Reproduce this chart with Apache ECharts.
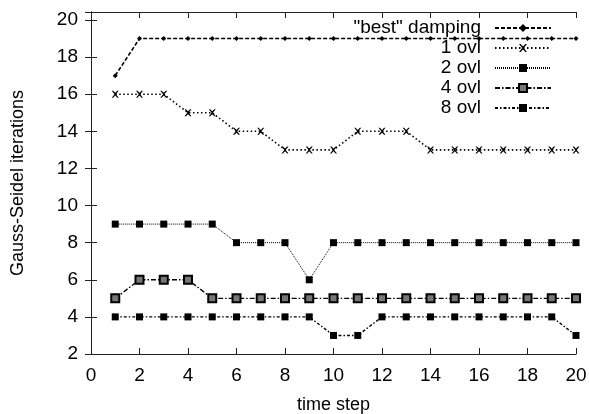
<!DOCTYPE html>
<html>
<head>
<meta charset="utf-8">
<script src="https://cdn.jsdelivr.net/npm/echarts@6/dist/echarts.min.js"></script>
<style>
  html, body { margin: 0; padding: 0; background: #fff; }
  #chart { width: 589px; height: 414px; }
</style>
</head>
<body>
<div id="chart"></div>
<script>
// time steps on x
const timeSteps = [1, 2, 3, 4, 5, 6, 7, 8, 9, 10, 11, 12, 13, 14, 15, 16, 17, 18, 19, 20]

// Gauss-Seidel iterations per series
const bestDamping = [17, 19, 19, 19, 19, 19, 19, 19, 19, 19, 19, 19, 19, 19, 19, 19, 19, 19, 19, 19]
const ovl1 = [16, 16, 16, 15, 15, 14, 14, 13, 13, 13, 14, 14, 14, 13, 13, 13, 13, 13, 13, 13]
const ovl2 = [9, 9, 9, 9, 9, 8, 8, 8, 6, 8, 8, 8, 8, 8, 8, 8, 8, 8, 8, 8]
const ovl4 = [5, 6, 6, 6, 5, 5, 5, 5, 5, 5, 5, 5, 5, 5, 5, 5, 5, 5, 5, 5]
const ovl8 = [4, 4, 4, 4, 4, 4, 4, 4, 4, 3, 3, 4, 4, 4, 4, 4, 4, 4, 4, 3]

const xTicks = [0, 20, 2]   // min, max, step
const yTicks = [2, 20.43, 2]

const chartInstance = echarts.init(document.getElementById('chart'))

const pairs = (vals) => timeSteps.map((t, i) => [t, vals[i]])

const crossPath = 'path://M0,0 L2,0 L5,3 L8,0 L10,0 L6,5 L10,10 L8,10 L5,7 L2,10 L0,10 L4,5 Z'

const font = 'Liberation Sans, Arial, Helvetica, sans-serif'

const axisBase = {
  type: 'value',
  axisLine: { show: true, lineStyle: { color: '#222', width: 1 } },
  axisTick: { show: true, inside: true, length: 6, lineStyle: { color: '#222' } },
  splitLine: { show: false }
}

const mkSeries = (name, vals, symbol, size, dash, width, itemStyle) => ({
  name,
  type: 'line',
  data: pairs(vals),
  symbol,
  symbolSize: size,
  showAllSymbol: true,
  animation: false,
  lineStyle: { color: '#000', width, type: dash },
  itemStyle: Object.assign({ color: '#000' }, itemStyle || {}),
  emphasis: { disabled: true }
})

chartInstance.setOption({
  animation: false,
  textStyle: { fontFamily: font },
  grid: { left: 91, right: 13, top: 12, bottom: 60, outerBoundsMode: 'none', containLabel: false },
  legend: {
    orient: 'vertical',
    align: 'right',
    right: 37,
    top: 18,
    padding: 0,
    itemWidth: 56,
    itemHeight: 10,
    itemGap: 0,
    selectedMode: false,
    formatter: (name) => name + '{g| }',
    textStyle: {
      fontSize: 19, color: '#000', fontFamily: font, lineHeight: 20,
      rich: { g: { width: 9 } }
    },
    data: ['"best" damping', '1 ovl', '2 ovl', '4 ovl', '8 ovl']
  },
  xAxis: [
    Object.assign({}, axisBase, {
      min: xTicks[0], max: xTicks[1], interval: xTicks[2],
      name: 'time step',
      nameLocation: 'middle',
      nameGap: 42,
      nameTextStyle: { fontSize: 18, color: '#000', fontFamily: font },
      axisLabel: { fontSize: 19, color: '#000', margin: 12, fontFamily: font }
    }),
    Object.assign({}, axisBase, {
      position: 'top',
      min: xTicks[0], max: xTicks[1], interval: xTicks[2],
      axisLabel: { show: false }
    })
  ],
  yAxis: [
    Object.assign({}, axisBase, {
      min: yTicks[0], max: yTicks[1], interval: yTicks[2],
      name: 'Gauss-Seidel iterations',
      nameLocation: 'middle',
      nameGap: 64,
      nameTextStyle: { fontSize: 18, color: '#000', fontFamily: font },
      axisLabel: {
        fontSize: 19, color: '#000', margin: 13, fontFamily: font,
        showMaxLabel: false,
        formatter: (v) => (Number.isInteger(v) ? String(v) : '')
      }
    }),
    Object.assign({}, axisBase, {
      position: 'right',
      min: yTicks[0], max: yTicks[1], interval: yTicks[2],
      axisLabel: { show: false }
    })
  ],
  series: [
    mkSeries('"best" damping', bestDamping, 'diamond', 5, [4, 2], 1.6),
    mkSeries('1 ovl', ovl1, crossPath, 7, [1.5, 2.5], 1.6),
    mkSeries('2 ovl', ovl2, 'rect', 7, [1, 1], 1),
    mkSeries('4 ovl', ovl4, 'rect', 8, [5, 2, 1.5, 2], 1.4, { color: '#777', borderColor: '#000', borderWidth: 2 }),
    mkSeries('8 ovl', ovl8, 'rect', 7, [3, 2, 1.5, 2], 1.4)
  ]
})
</script>
</body>
</html>
